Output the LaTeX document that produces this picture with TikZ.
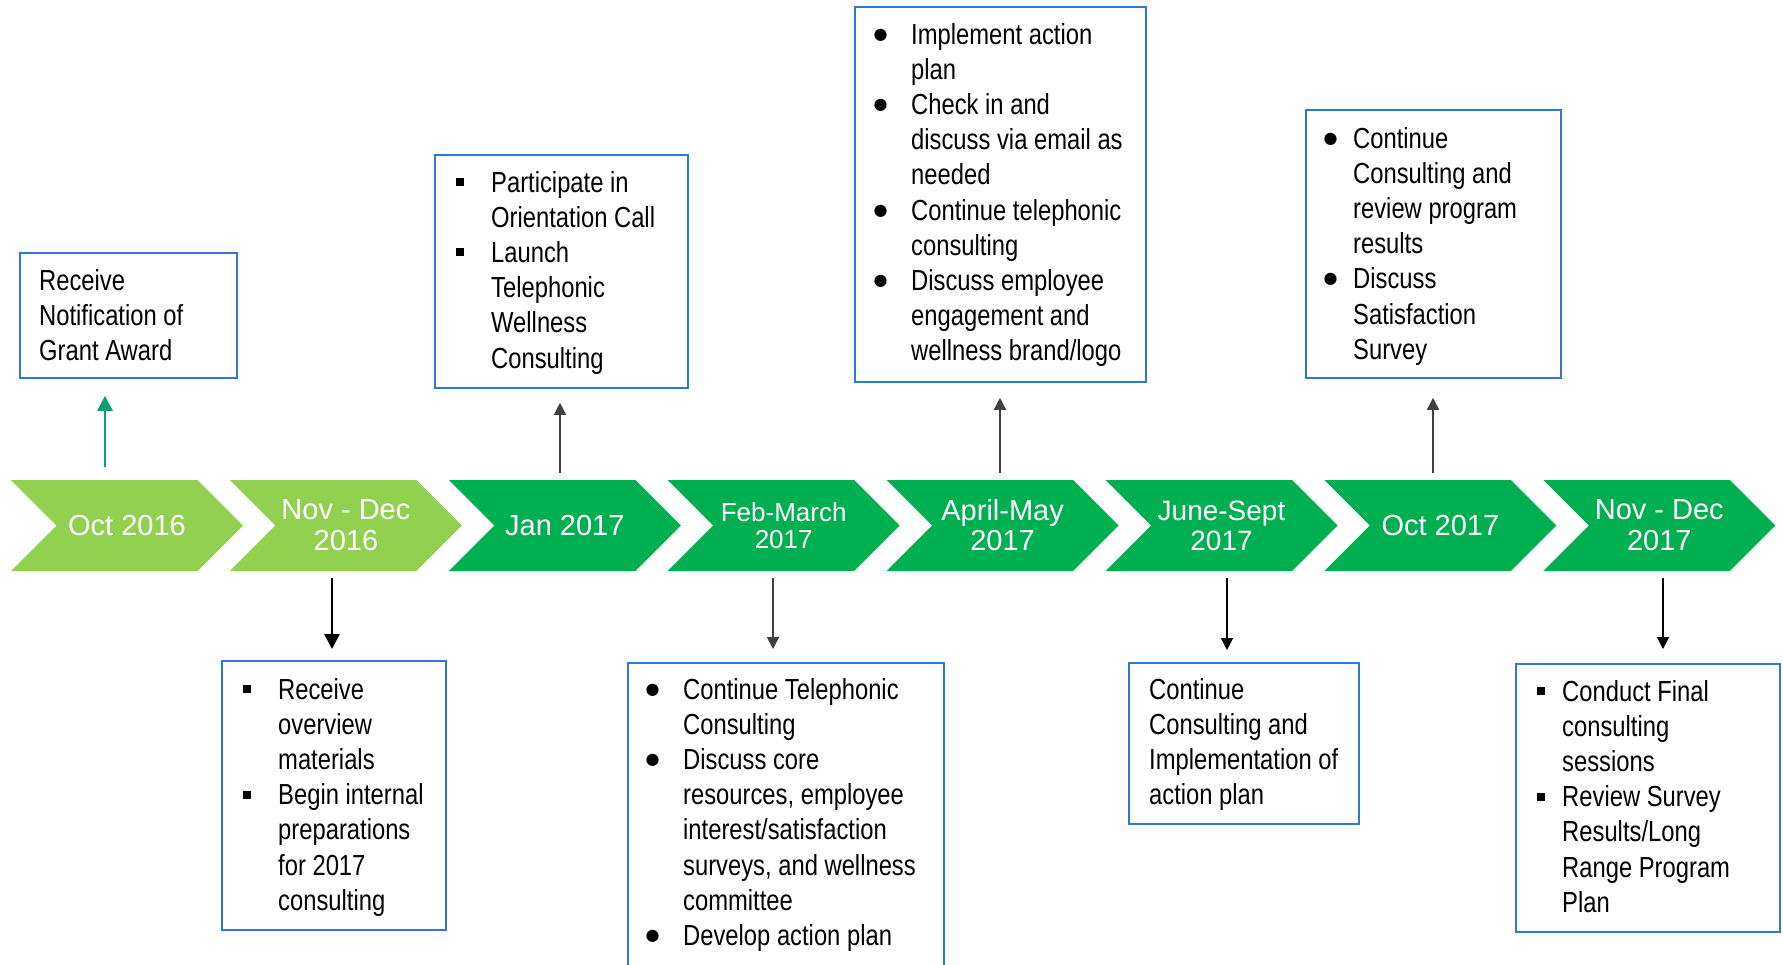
\documentclass[tikz,border=0pt]{standalone}
\usepackage{fontspec}
\setmainfont{Liberation Sans}
\newfontfamily\narrowfont[FakeStretch=0.82]{Liberation Sans}
\newfontfamily\djv{DejaVu Sans}
\usetikzlibrary{arrows.meta}
\definecolor{lgreen}{RGB}{146,208,80}
\definecolor{dgreen}{RGB}{0,176,80}
\definecolor{boxblue}{RGB}{46,120,214}
\definecolor{tealarrow}{RGB}{16,158,112}
\definecolor{arrgray}{RGB}{64,64,64}
\newcommand\sqb[1]{\makebox[0pt][l]{\hspace*{-#1}\rule[6pt]{8pt}{8pt}}}
\newcommand\rdb[1]{\makebox[0pt][l]{\hspace*{-#1}\hspace*{-1.5pt}\raisebox{5pt}{\djv\fontsize{16}{16}\selectfont ●}}}
\newcommand\boxtext[1]{\parbox[t]{400pt}{\narrowfont\fontsize{29}{35.2}\selectfont\raggedright #1}}
\tikzset{
  tbox/.style={draw=boxblue, line width=1.8pt, fill=white, inner sep=0pt, anchor=north west},
  btext/.style={inner sep=0pt, anchor=base west, text=black},
  chev/.style={text=white, align=center, inner sep=0pt},
  thinup/.style={draw=arrgray, line width=1.5pt, -{Triangle[width=12pt,length=12pt]}},
  thinblk/.style={draw=black, line width=1.5pt, -{Triangle[width=12pt,length=12pt]}},
  thickblk/.style={draw=black, line width=2.5pt, -{Triangle[width=15pt,length=15pt]}},
  thickteal/.style={draw=tealarrow, line width=2.5pt, -{Triangle[width=15pt,length=15pt]}},
}
\begin{document}
\begin{tikzpicture}[x=1pt,y=-1pt]
\path[use as bounding box] (0,0) rectangle (1783,964);
\clip (0,0) rectangle (1783,964);
\fill[white] (0,0) rectangle (1783,964);

% chevrons
\foreach \i/\col/\fs/\bs/\txt in {0/lgreen/29/31/{Oct 2016}, 1/lgreen/29/31/{Nov - Dec\\2016}, 2/dgreen/29/31/{Jan 2017}, 3/dgreen/26/27/{Feb-March\\2017}, 4/dgreen/29/30/{April-May\\2017}, 5/dgreen/28/30/{June-Sept\\2017}, 6/dgreen/29/31/{Oct 2017}, 7/dgreen/29/31/{Nov - Dec\\2017}}{
  \pgfmathsetmacro\L{11+218.9*\i}
  \fill[\col] (\L,480) -- ++(186.5,0) -- ++(45.5,45.5) -- ++(-45.5,45.5) -- ++(-186.5,0) -- ++(45.5,-45.5) -- cycle;
  \node[chev, font=\fontsize{\fs}{\bs}\selectfont] (c\i) at (\L+116,525.5) {\txt};
}

% boxes
\node[tbox, minimum width=217pt, minimum height=125pt] (bA) at (19,252) {};
\node[btext] (tA) at (39,290) {\boxtext{Receive\\Notification of\\Grant Award}};

\node[tbox, minimum width=253pt, minimum height=233pt] (bB) at (434,154) {};
\node[btext] (tB) at (491,192) {\boxtext{\sqb{35pt}Participate in\\Orientation Call\\\sqb{35pt}Launch\\Telephonic\\Wellness\\Consulting}};

\node[tbox, minimum width=291pt, minimum height=375pt] (bC) at (854,6) {};
\node[btext] (tC) at (911,44) {\boxtext{\rdb{36pt}Implement action\\plan\\\rdb{36pt}Check in and\\discuss via email as\\needed\\\rdb{36pt}Continue telephonic\\consulting\\\rdb{36pt}Discuss employee\\engagement and\\wellness brand/logo}};

\node[tbox, minimum width=255pt, minimum height=268pt] (bD) at (1305,109) {};
\node[btext] (tD) at (1353,148) {\boxtext{\rdb{28pt}Continue\\Consulting and\\review program\\results\\\rdb{28pt}Discuss\\Satisfaction\\Survey}};

\node[tbox, minimum width=224pt, minimum height=269pt] (bE) at (221,660) {};
\node[btext] (tE) at (278,699) {\boxtext{\sqb{35pt}Receive\\overview\\materials\\\sqb{35pt}Begin internal\\preparations\\for 2017\\consulting}};

\node[tbox, minimum width=316pt, minimum height=400pt] (bF) at (627,662) {};
\node[btext] (tF) at (683,699) {\boxtext{\rdb{36pt}Continue Telephonic\\Consulting\\\rdb{36pt}Discuss core\\resources, employee\\interest/satisfaction\\surveys, and wellness\\committee\\\rdb{36pt}Develop action plan}};

\node[tbox, minimum width=230pt, minimum height=161pt] (bG) at (1128,662) {};
\node[btext] (tG) at (1149,699) {\boxtext{Continue\\Consulting and\\Implementation of\\action plan}};

\node[tbox, minimum width=264pt, minimum height=268pt] (bH) at (1515,663) {};
\node[btext] (tH) at (1562,701) {\boxtext{\sqb{25pt}Conduct Final\\consulting\\sessions\\\sqb{25pt}Review Survey\\Results/Long\\Range Program\\Plan}};

% connectors
\coordinate (s1) at (105,467);
\coordinate (s2) at (332,578);
\coordinate (s3) at (560,473);
\coordinate (s4) at (773,578);
\coordinate (s5) at (1000,473);
\coordinate (s6) at (1227,578);
\coordinate (s7) at (1433,473);
\coordinate (s8) at (1663,578);
\draw[thickteal, shorten >=17pt] (s1) -- (s1 |- bA.south);
\draw[thickblk, shorten >=11pt] (s2) -- (s2 |- bE.north);
\draw[thinup, shorten >=14pt] (s3) -- (s3 |- bB.south);
\draw[thinup, shorten >=13pt] (s4) -- (s4 |- bF.north);
\draw[thinup, shorten >=15pt] (s5) -- (s5 |- bC.south);
\draw[thinblk, shorten >=12pt] (s6) -- (s6 |- bG.north);
\draw[thinup, shorten >=19pt] (s7) -- (s7 |- bD.south);
\draw[thinblk, shorten >=14pt] (s8) -- (s8 |- bH.north);
\end{tikzpicture}
\end{document}
